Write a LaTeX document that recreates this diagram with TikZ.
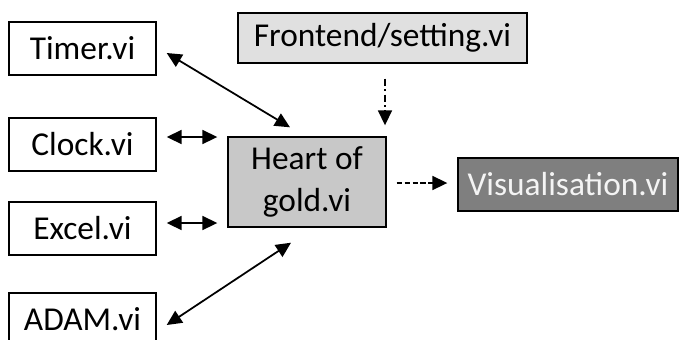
\documentclass[tikz,border=0pt]{standalone}
\usepackage{fontspec}
\setmainfont{Carlito}
\usepackage{xcolor}
\usetikzlibrary{arrows.meta,calc}

\definecolor{frontfill}{HTML}{E0E0E0}
\definecolor{hubfill}{HTML}{C8C8C8}
\definecolor{visfill}{HTML}{7F7F7F}
\definecolor{vistext}{HTML}{F4F4F4}

\begin{document}
\begin{tikzpicture}[
  x=0.02cm, y=-0.02cm,
  font=\fontsize{19}{24}\selectfont,
  >={Triangle[length=3mm,width=2.8mm]},
  vibox/.style={draw, line width=0.8pt, inner sep=0pt, minimum width=2.94cm, minimum height=1.06cm},
  hubbox/.style={vibox, fill=hubfill, align=center, minimum width=3.16cm, minimum height=1.8cm},
  frontbox/.style={vibox, fill=frontfill, minimum width=5.78cm, minimum height=1.0cm},
  visbox/.style={vibox, fill=visfill, text=vistext, minimum width=4.4cm},
  arr/.style={->, line width=1pt},
  dbl/.style={<->, line width=1pt},
]
\clip (0,0) rectangle (682,339);
% sub-vi column
\node[vibox] (timer) at (82.5,48.5) {Timer.vi};
\node[vibox] (clock) at (82.5,144.5) {Clock.vi};
\node[vibox] (excel) at (82.5,228.5) {Excel.vi};
\node[vibox] (adam) at (82.5,319.5) {ADAM.vi};
% main vi, settings and output
\node[hubbox] (heart) at (307,182) {Heart of\\gold.vi};
\node[frontbox] (front) at (382.5,38) {Frontend/setting.vi};
\node[visbox] (vis) at (568,184.5) {Visualisation.vi};
% connections
\draw[dbl] ([shift={(10,4.5)}]timer.east) -- ([shift={(-17,-9)}]heart.north);
\draw[dbl] ($(clock.east)+(10,-7.5)$) -- ($(clock.east -| heart.west)+(-10,-7.5)$);
\draw[dbl] ($(excel.east)+(10,-5.5)$) -- ($(excel.east -| heart.west)+(-10,-5.5)$);
\draw[dbl] ([shift={(10,5.5)}]adam.east) -- ([shift={(-16,15)}]heart.south);
\draw[arr, dash pattern=on 4pt off 2pt on 1pt off 2pt] ($(front.south)+(2.5,15)$) -- ($(front.south |- heart.north)+(2.5,-11)$);
\draw[arr, dash pattern=on 3pt off 1.5pt] ($(heart.east)+(10,1)$) -- ($(vis.west)+(-10,-1.5)$);
\end{tikzpicture}
\end{document}
